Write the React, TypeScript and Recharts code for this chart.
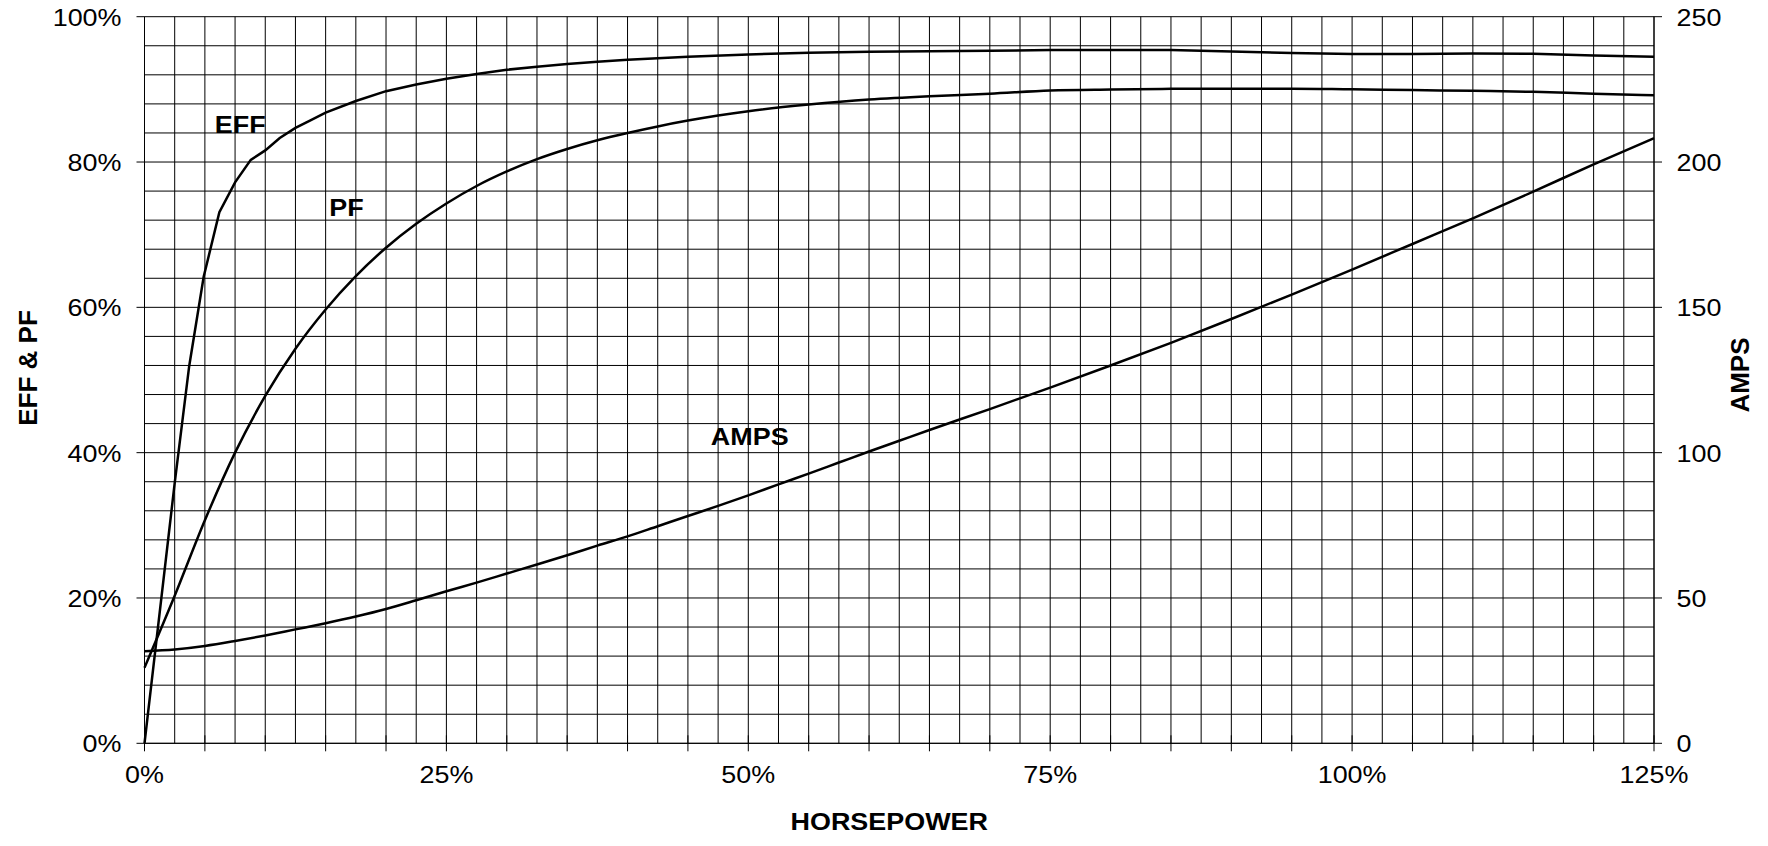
import React from 'react';
import { LineChart, Line, XAxis, YAxis, CartesianGrid, ReferenceDot } from 'recharts';

const FONT = '"Liberation Sans", Arial, Helvetica, sans-serif';
const FS = 24.7;
const STRETCH = 1.09;

// Horsepower (% of rated) sample points and values
const effHp = [0, 2.5, 3.7, 4.9, 6.2, 7.5, 8.8, 10, 11.2, 12.5, 13.7, 15, 17.5, 20, 22.5, 25, 27.5, 30, 32.5, 35, 37.5, 40, 45, 50, 55, 60, 65, 70, 75, 80, 85, 90, 95, 100, 105, 110, 115, 120, 125];
const effValues = [0, 35.8, 51.9, 64.2, 73.1, 77.2, 80.3, 81.6, 83.3, 84.7, 85.7, 86.8, 88.4, 89.75, 90.67, 91.45, 92.1, 92.7, 93.1, 93.5, 93.8, 94.07, 94.5, 94.8, 95.03, 95.17, 95.26, 95.3, 95.4, 95.4, 95.4, 95.2, 95.0, 94.85, 94.85, 94.94, 94.9, 94.67, 94.5];

const pfHp = [0, 2.5, 5, 7.5, 10, 12.5, 15, 17.5, 20, 22.5, 25, 27.5, 30, 32.5, 35, 37.5, 40, 42.5, 45, 47.5, 50, 55, 60, 65, 70, 75, 80, 85, 90, 95, 100, 105, 110, 115, 120, 125];
const pfValues = [10.4, 20.3, 30.7, 40, 47.8, 54.3, 59.7, 64.3, 68.2, 71.5, 74.3, 76.7, 78.7, 80.4, 81.8, 83, 84, 84.9, 85.7, 86.4, 87, 87.9, 88.6, 89.06, 89.4, 89.84, 89.98, 90.07, 90.1, 90.1, 90, 89.9, 89.8, 89.66, 89.4, 89.2];

const ampsHp = [0, 2.5, 5, 7.5, 10, 12.5, 15, 17.5, 20, 22.5, 25, 27.5, 30, 32.5, 35, 37.5, 40, 42.5, 45, 47.5, 50, 52.5, 55, 57.5, 60, 62.5, 65, 70, 75, 80, 85, 90, 95, 100, 105, 110, 115, 120, 125];
const ampsValues = [31.7, 32.3, 33.5, 35.2, 37.1, 39.2, 41.3, 43.6, 46.2, 49.2, 52.3, 55.3, 58.4, 61.5, 64.7, 68, 71.2, 74.7, 78.2, 81.7, 85.3, 89.1, 92.8, 96.6, 100.4, 104.1, 107.8, 115, 122.4, 130, 137.8, 146, 154.4, 163, 171.8, 180.6, 189.8, 199.2, 208.2];

// Axis ticks
const xTicks = Array.from({ length: 51 }, (_, i) => i * 2.5);
const xLabelEvery = 25;
const xTickMarkEvery = 5;
const leftTicks = Array.from({ length: 26 }, (_, i) => i * 4);
const leftLabelEvery = 20;
const rightTicks = [0, 50, 100, 150, 200, 250];

// In-chart series labels (data coordinates on the left axis)
const seriesLabelNames = ['EFF', 'PF', 'AMPS'];
const seriesLabelHp = [5.82, 15.3, 46.9];
const seriesLabelPct = [84.0, 72.57, 41.05];

const effData = effHp.map((hp, i) => ({ hp, v: effValues[i] }));
const pfData = pfHp.map((hp, i) => ({ hp, v: pfValues[i] }));
const ampsData = ampsHp.map((hp, i) => ({ hp, v: ampsValues[i] }));

const X_TICK_SIZE = 8;
const X_TICK_MARGIN = 10;
const L_TICK_SIZE = 8;
const L_TICK_MARGIN = 15;

const near = (a: number, m: number) => Math.abs(a / m - Math.round(a / m)) < 1e-6;

function XTick(props: any) {
  const { x, y, payload } = props;
  const v = payload.value;
  const axisY = y - X_TICK_SIZE - X_TICK_MARGIN;
  return (
    <g>
      {near(v, xTickMarkEvery) && (
        <line x1={x} x2={x} y1={axisY - 8} y2={axisY + 8} stroke="#000" strokeWidth={1} />
      )}
      {near(v, xLabelEvery) && (
        <text
          transform={`translate(${x},${axisY + 40}) scale(${STRETCH},1)`}
          textAnchor="middle"
          fontSize={FS}
          fontFamily={FONT}
          fill="#000"
        >
          {`${v}%`}
        </text>
      )}
    </g>
  );
}

function LeftTick(props: any) {
  const { x, y, payload } = props;
  const v = payload.value;
  const axisX = x + L_TICK_SIZE + L_TICK_MARGIN;
  if (!near(v, leftLabelEvery)) return <g />;
  return (
    <g>
      <line x1={axisX - 8} x2={axisX} y1={y} y2={y} stroke="#000" strokeWidth={1} />
      <text
        transform={`translate(${x},${y}) scale(${STRETCH},1)`}
        dy="0.36em"
        textAnchor="end"
        fontSize={FS}
        fontFamily={FONT}
        fill="#000"
      >
        {`${v}%`}
      </text>
    </g>
  );
}

function RightTick(props: any) {
  const { x, y, payload } = props;
  return (
    <text
      transform={`translate(${x},${y}) scale(${STRETCH},1)`}
      dy="0.36em"
      textAnchor="start"
      fontSize={FS}
      fontFamily={FONT}
      fill="#000"
    >
      {payload.value}
    </text>
  );
}

const xTitle = (props: any) => {
  const vb = props.viewBox || { x: 136.5, y: 743.3, width: 1509.5, height: 94.7 };
  const cx = vb.x + vb.width / 2 - 10;
  const by = vb.y + 86.7;
  return (
    <text
      transform={`translate(${cx},${by}) scale(${STRETCH},1)`}
      textAnchor="middle"
      fontSize={FS}
      fontWeight="bold"
      fontFamily={FONT}
      fill="#000"
    >
      HORSEPOWER
    </text>
  );
};

const leftTitle = (props: any) => {
  const vb = props.viewBox || { x: 0, y: 16.7, width: 136.5, height: 726.6 };
  const cx = vb.x + 19.5;
  const cy = vb.y + vb.height / 2 - 12;
  return (
    <text
      x={cx}
      y={cy}
      dy="0.36em"
      transform={`rotate(-90 ${cx} ${cy})`}
      textAnchor="middle"
      fontSize={26}
      fontWeight="bold"
      fontFamily={FONT}
      fill="#000"
    >
      EFF &amp; PF
    </text>
  );
};

const rightTitle = (props: any) => {
  const vb = props.viewBox || { x: 1646, y: 16.7, width: 106, height: 726.6 };
  const cx = vb.x + 86;
  const cy = vb.y + vb.height / 2 - 5;
  return (
    <text
      x={cx}
      y={cy}
      dy="0.36em"
      transform={`rotate(-90 ${cx} ${cy})`}
      textAnchor="middle"
      fontSize={26}
      fontWeight="bold"
      fontFamily={FONT}
      fill="#000"
    >
      AMPS
    </text>
  );
};

const seriesLabel = (text: string) => (props: any) => {
  const vb = props.viewBox || { x: 0, y: 0 };
  return (
    <text
      transform={`translate(${vb.x},${vb.y}) scale(${STRETCH},1)`}
      textAnchor="start"
      fontSize={FS}
      fontWeight="bold"
      fontFamily={FONT}
      fill="#000"
    >
      {text}
    </text>
  );
};

export default function App() {
  return (
    <div style={{ width: 1752, height: 838, marginTop: -8 }}>
      <LineChart width={1752} height={838} margin={{ top: 16.7, right: 0, bottom: 0, left: 0 }}>
        <CartesianGrid stroke="#000" strokeWidth={1} yAxisId="left" />
        <XAxis
          dataKey="hp"
          type="number"
          domain={[0, 125]}
          ticks={xTicks}
          interval={0}
          height={94.7}
          tickSize={X_TICK_SIZE}
          tickMargin={X_TICK_MARGIN}
          tickLine={false}
          tick={<XTick />}
          axisLine={{ stroke: '#000', strokeWidth: 1 }}
          label={{ content: xTitle }}
          allowDuplicatedCategory={false}
        />
        <YAxis
          yAxisId="left"
          orientation="left"
          type="number"
          domain={[0, 100]}
          ticks={leftTicks}
          interval={0}
          width={136.5}
          tickSize={L_TICK_SIZE}
          tickMargin={L_TICK_MARGIN}
          tickLine={false}
          tick={<LeftTick />}
          axisLine={{ stroke: '#000', strokeWidth: 1 }}
          label={{ content: leftTitle }}
        />
        <YAxis
          yAxisId="right"
          orientation="right"
          type="number"
          domain={[0, 250]}
          ticks={rightTicks}
          interval={0}
          width={106}
          tickSize={8}
          tickMargin={14.5}
          tickLine={{ stroke: '#000', strokeWidth: 1 }}
          tick={<RightTick />}
          axisLine={{ stroke: '#000', strokeWidth: 1 }}
          label={{ content: rightTitle }}
        />
        <Line
          yAxisId="left"
          data={effData}
          dataKey="v"
          type="linear"
          stroke="#000"
          strokeWidth={2.5}
          dot={false}
          activeDot={false}
          isAnimationActive={false}
        />
        <Line
          yAxisId="left"
          data={pfData}
          dataKey="v"
          type="monotone"
          stroke="#000"
          strokeWidth={2.5}
          dot={false}
          activeDot={false}
          isAnimationActive={false}
        />
        <Line
          yAxisId="right"
          data={ampsData}
          dataKey="v"
          type="monotone"
          stroke="#000"
          strokeWidth={2.5}
          dot={false}
          activeDot={false}
          isAnimationActive={false}
        />
        {seriesLabelNames.map((name, i) => (
          <ReferenceDot
            key={name}
            yAxisId="left"
            x={seriesLabelHp[i]}
            y={seriesLabelPct[i]}
            r={0}
            fill="none"
            stroke="none"
            label={{ content: seriesLabel(name) }}
          />
        ))}
      </LineChart>
    </div>
  );
}
